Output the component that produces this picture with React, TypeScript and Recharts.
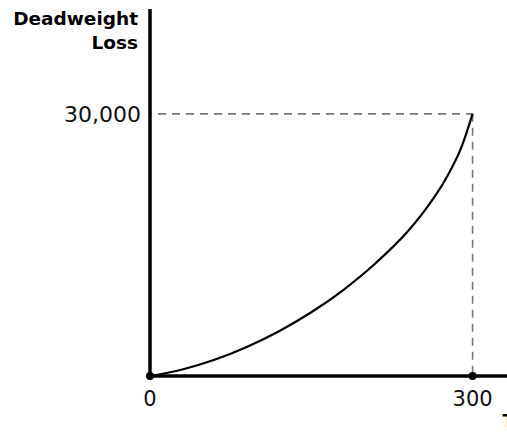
import React from "react";
import {
  LineChart,
  Line,
  XAxis,
  YAxis,
  ReferenceLine,
  ReferenceDot,
} from "recharts";

const taxLevels = [0, 30, 60, 90, 120, 150, 180, 210, 240, 260, 275, 290, 300];
const deadweightLoss = [0, 750, 1860, 3330, 5130, 7290, 9870, 12930, 16590, 19700, 22550, 26300, 30000];
const xTicks = [0, 300];
const yTicks = [30000];
const markTax = 300;
const markLoss = 30000;

const data = taxLevels.map((t, i) => ({ tax: t, loss: deadweightLoss[i] }));

const FONT = "'DejaVu Sans', sans-serif";

const YTitle = () => (
  <g>
    <text x={138} y={25} textAnchor="end" fontFamily={FONT} fontWeight="bold" fontSize={18.5} fill="#000">
      Deadweight
    </text>
    <text x={138} y={49} textAnchor="end" fontFamily={FONT} fontWeight="bold" fontSize={18.5} fill="#000">
      Loss
    </text>
  </g>
);

const XTitle = () => (
  <text x={502.5} y={427} textAnchor="start" fontFamily={FONT} fontWeight="bold" fontSize={18.5} fill="#000">
    Tax
  </text>
);

export default function App() {
  return (
    <div style={{ position: "absolute", left: 0, top: 0, width: 507, height: 434, background: "#fff" }}>
      <LineChart
        width={507}
        height={434}
        data={data}
        margin={{ top: 9, right: 0, left: 0, bottom: 0 }}
      >
        <XAxis
          dataKey="tax"
          type="number"
          domain={[0, 332]}
          ticks={xTicks}
          height={58}
          tickLine={false}
          tickSize={0}
          tickMargin={15}
          axisLine={{ stroke: "#000", strokeWidth: 3.5 }}
          tick={{ fontFamily: FONT, fontSize: 21, fill: "#111" }}
          label={{ content: () => <XTitle /> }}
          allowDataOverflow
        />
        <YAxis
          dataKey="loss"
          type="number"
          domain={[0, 42000]}
          ticks={yTicks}
          width={150}
          tickLine={false}
          tickSize={0}
          tickMargin={9}
          axisLine={{ stroke: "#000", strokeWidth: 3.5 }}
          tick={{ fontFamily: FONT, fontSize: 22, fill: "#111" }}
          tickFormatter={(v: number) => v.toLocaleString("en-US")}
          label={{ content: () => <YTitle /> }}
          allowDataOverflow
        />
        <ReferenceLine
          segment={[{ x: 0, y: markLoss }, { x: markTax, y: markLoss }]}
          stroke="#777"
          strokeWidth={1.6}
          strokeDasharray="8 6"
          strokeDashoffset={-8}
        />
        <ReferenceLine
          segment={[{ x: markTax, y: markLoss }, { x: markTax, y: 0 }]}
          stroke="#777"
          strokeWidth={1.6}
          strokeDasharray="8 6"
        />
        <Line
          dataKey="loss"
          type="monotone"
          stroke="#000"
          strokeWidth={2.2}
          dot={false}
          activeDot={false}
          isAnimationActive={false}
        />
        <ReferenceDot x={0} y={0} r={4} fill="#000" stroke="none" />
        <ReferenceDot x={markTax} y={0} r={4} fill="#000" stroke="none" />
      </LineChart>
    </div>
  );
}
